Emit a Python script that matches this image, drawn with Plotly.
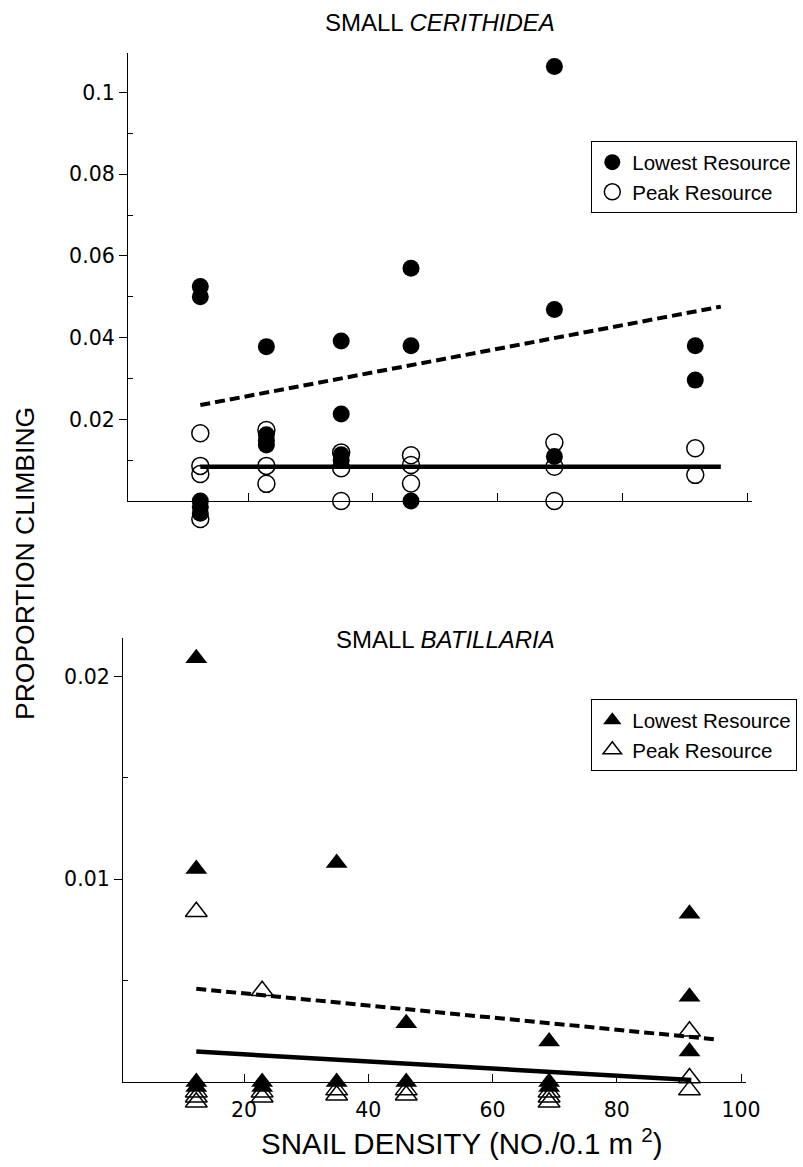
import plotly.graph_objects as go

# ---------------- data ----------------
# snail density columns (NO./0.1 m2)
dens = [12.3, 22.9, 34.9, 46.1, 69.1, 91.7]

# SMALL CERITHIDEA - proportion climbing (values per density column)
cer_low = [
    [0.0525, 0.0500, 0.0, -0.0014, -0.0030],
    [0.0378, 0.0162, 0.0149, 0.0137],
    [0.0392, 0.0213, 0.0113, 0.0100],
    [0.0570, 0.0380, 0.0],
    [0.1064, 0.0469, 0.0109],
    [0.0380, 0.0296],
]
cer_peak = [
    [0.0166, 0.0086, 0.0066, -0.0044],
    [0.0174, 0.0086, 0.0042],
    [0.0119, 0.0080, 0.0],
    [0.0112, 0.0088, 0.0043],
    [0.0143, 0.0084, 0.0],
    [0.0129, 0.0064],
]
# regression lines (start/end density, fitted values)
cer_fit_x = [12.3, 95.8]
cer_fit_low = [0.0235, 0.0476]
cer_fit_peak = [0.0084, 0.0084]

# SMALL BATILLARIA
bat_low = [
    [0.0209, 0.0105, 0.0, -0.00025],
    [0.0, -0.00025],
    [0.0108, 0.0],
    [0.0029, 0.0],
    [0.0020, 0.0, -0.00025],
    [0.0083, 0.0042, 0.0015],
]
bat_peak = [
    [0.0084, -0.0005, -0.00075, -0.001],
    [0.0045, -0.0005, -0.00075],
    [-0.0004, -0.00065],
    [-0.0004, -0.00065],
    [-0.0005, -0.00075, -0.001],
    [0.0025, 0.0002, -0.0004],
]
bat_fit_x_low = [12.3, 96.0]
bat_fit_low = [0.0046, 0.0021]
bat_fit_x_peak = [12.3, 92.0]
bat_fit_peak = [0.0015, 0.0001]

x_ticks = [20, 40, 60, 80, 100]
cer_yticks = [0.02, 0.04, 0.06, 0.08, 0.1]
cer_yticktext = ["0.02", "0.04", "0.06", "0.08", "0.1"]
cer_yminor = [0.01, 0.03, 0.05, 0.07, 0.09]
bat_yticks = [0.01, 0.02]
bat_yticktext = ["0.01", "0.02"]
bat_yminor = [0.005, 0.015]


def flat(groups):
    xs, ys = [], []
    for d, vals in zip(dens, groups):
        for v in vals:
            xs.append(d)
            ys.append(v)
    return xs, ys


W, H = 803, 1167
def px(x):
    return x / W
def py(y):
    return 1 - y / H

TEXTFONT = "Liberation Sans, Arial, Helvetica, sans-serif"
TICKFONT = "DejaVu Sans, Liberation Sans, sans-serif"

# panel geometry (pixels)
TOP_Y0, TOP_Y1 = 501, 53          # y=0 and top of axis, top panel
BOT_Y0, BOT_Y1 = 1082, 638        # bottom panel
TOP_MAX, BOT_MAX = 0.1097, 0.0219
EXTRA = 30                        # room below the axis for stacked zero markers
top_ext = -EXTRA * TOP_MAX / (TOP_Y0 - TOP_Y1)
bot_ext = -EXTRA * BOT_MAX / (BOT_Y0 - BOT_Y1)

fig = go.Figure()

# --- top panel ---
fig.add_trace(go.Scatter(x=cer_fit_x, y=cer_fit_low, mode="lines",
                         line=dict(color="black", width=4, dash="10px,5px"),
                         showlegend=False, xaxis="x", yaxis="y", hoverinfo="skip"))
fig.add_trace(go.Scatter(x=cer_fit_x, y=cer_fit_peak, mode="lines",
                         line=dict(color="black", width=4.5),
                         showlegend=False, xaxis="x", yaxis="y", hoverinfo="skip"))
xs, ys = flat(cer_low)
fig.add_trace(go.Scatter(x=xs, y=ys, mode="markers", name="Lowest Resource",
                         marker=dict(symbol="circle", size=17, color="black"),
                         cliponaxis=False, xaxis="x", yaxis="y3", legend="legend"))
xs, ys = flat(cer_peak)
fig.add_trace(go.Scatter(x=xs, y=ys, mode="markers", name="Peak Resource",
                         marker=dict(symbol="circle-open", size=17, color="black",
                                     line=dict(width=1.5)),
                         cliponaxis=False, xaxis="x", yaxis="y3", legend="legend"))

# --- bottom panel ---
fig.add_trace(go.Scatter(x=bat_fit_x_low, y=bat_fit_low, mode="lines",
                         line=dict(color="black", width=4, dash="10px,5px"),
                         showlegend=False, xaxis="x2", yaxis="y2", hoverinfo="skip"))
fig.add_trace(go.Scatter(x=bat_fit_x_peak, y=bat_fit_peak, mode="lines",
                         line=dict(color="black", width=4.5),
                         showlegend=False, xaxis="x2", yaxis="y2", hoverinfo="skip"))
xs, ys = flat(bat_low)
fig.add_trace(go.Scatter(x=xs, y=ys, mode="markers", name="Lowest Resource",
                         marker=dict(symbol="triangle-up", size=19, color="black"),
                         cliponaxis=False, xaxis="x2", yaxis="y4", legend="legend2"))
xs, ys = flat(bat_peak)
fig.add_trace(go.Scatter(x=xs, y=ys, mode="markers", name="Peak Resource",
                         marker=dict(symbol="triangle-up-open", size=19, color="black",
                                     line=dict(width=1.5)),
                         cliponaxis=False, xaxis="x2", yaxis="y4", legend="legend2"))

axis_common = dict(showline=True, linecolor="black", linewidth=1.3, showgrid=False,
                   zeroline=False, tickcolor="black", tickwidth=1.3)
hidden = dict(visible=False, showgrid=False, zeroline=False)

legend_common = dict(xanchor="left", yanchor="top", bordercolor="black",
                     borderwidth=1.3, bgcolor="white",
                     font=dict(family=TEXTFONT, size=20.5), itemwidth=30,
                     tracegroupgap=0)

fig.update_layout(
    width=W, height=H,
    margin=dict(l=0, r=0, t=0, b=0, autoexpand=False),
    paper_bgcolor="white", plot_bgcolor="rgba(0,0,0,0)",
    font=dict(family=TEXTFONT, color="black"),
    xaxis=dict(domain=[px(128), px(752)], range=[0.7, 100.8], anchor="y",
               tickmode="array", tickvals=x_ticks, ticks="inside", ticklen=8,
               showticklabels=False, **axis_common),
    yaxis=dict(domain=[py(TOP_Y0), py(TOP_Y1)], range=[0, TOP_MAX], anchor="x",
               tickmode="array", tickvals=cer_yticks, ticktext=cer_yticktext,
               ticks="outside", ticklen=8,
               tickfont=dict(family=TICKFONT, size=20.5),
               minor=dict(tickmode="array", tickvals=cer_yminor, ticks="inside",
                          ticklen=5, tickcolor="black", showgrid=False),
               **axis_common),
    yaxis3=dict(domain=[py(TOP_Y0 + EXTRA), py(TOP_Y1)], range=[top_ext, TOP_MAX],
                anchor="x", **hidden),
    xaxis2=dict(domain=[px(123), px(746)], range=[0.5, 100.8], anchor="y2",
                tickmode="array", tickvals=x_ticks, ticks="inside", ticklen=8,
                ticklabelstandoff=9,
                tickfont=dict(family=TICKFONT, size=20.5), **axis_common),
    yaxis2=dict(domain=[py(BOT_Y0), py(BOT_Y1)], range=[0, BOT_MAX], anchor="x2",
                tickmode="array", tickvals=bat_yticks, ticktext=bat_yticktext,
                ticks="outside", ticklen=8,
                tickfont=dict(family=TICKFONT, size=20.5),
                minor=dict(tickmode="array", tickvals=bat_yminor, ticks="inside",
                           ticklen=5, tickcolor="black", showgrid=False),
                **axis_common),
    yaxis4=dict(domain=[py(BOT_Y0 + EXTRA), py(BOT_Y1)], range=[bot_ext, BOT_MAX],
                anchor="x2", **hidden),
    legend=dict(x=px(591), y=py(141), **legend_common),
    legend2=dict(x=px(591), y=py(699), **legend_common),
    annotations=[
        dict(text="SMALL <i>CERITHIDEA</i>", x=px(440), y=py(22), xref="paper", yref="paper",
             xanchor="center", yanchor="middle",
             showarrow=False, font=dict(size=24, family=TEXTFONT)),
        dict(text="SMALL <i>BATILLARIA</i>", x=px(445), y=py(639), xref="paper", yref="paper",
             xanchor="center", yanchor="middle",
             showarrow=False, font=dict(size=24, family=TEXTFONT)),
        dict(text="PROPORTION CLIMBING", x=px(25), y=py(564), xref="paper", yref="paper",
             xanchor="center", yanchor="middle",
             showarrow=False, textangle=-90, font=dict(size=26.5, family=TEXTFONT)),
        dict(text="SNAIL DENSITY (NO./0.1 m <sup>2</sup>)", x=px(462), y=py(1141),
             xref="paper", yref="paper", xanchor="center", yanchor="middle",
             showarrow=False, font=dict(size=29.5, family=TEXTFONT)),
    ],
)

fig.write_html("out.html", config={"displayModeBar": False},
               post_script="document.body.style.margin='0px';")
